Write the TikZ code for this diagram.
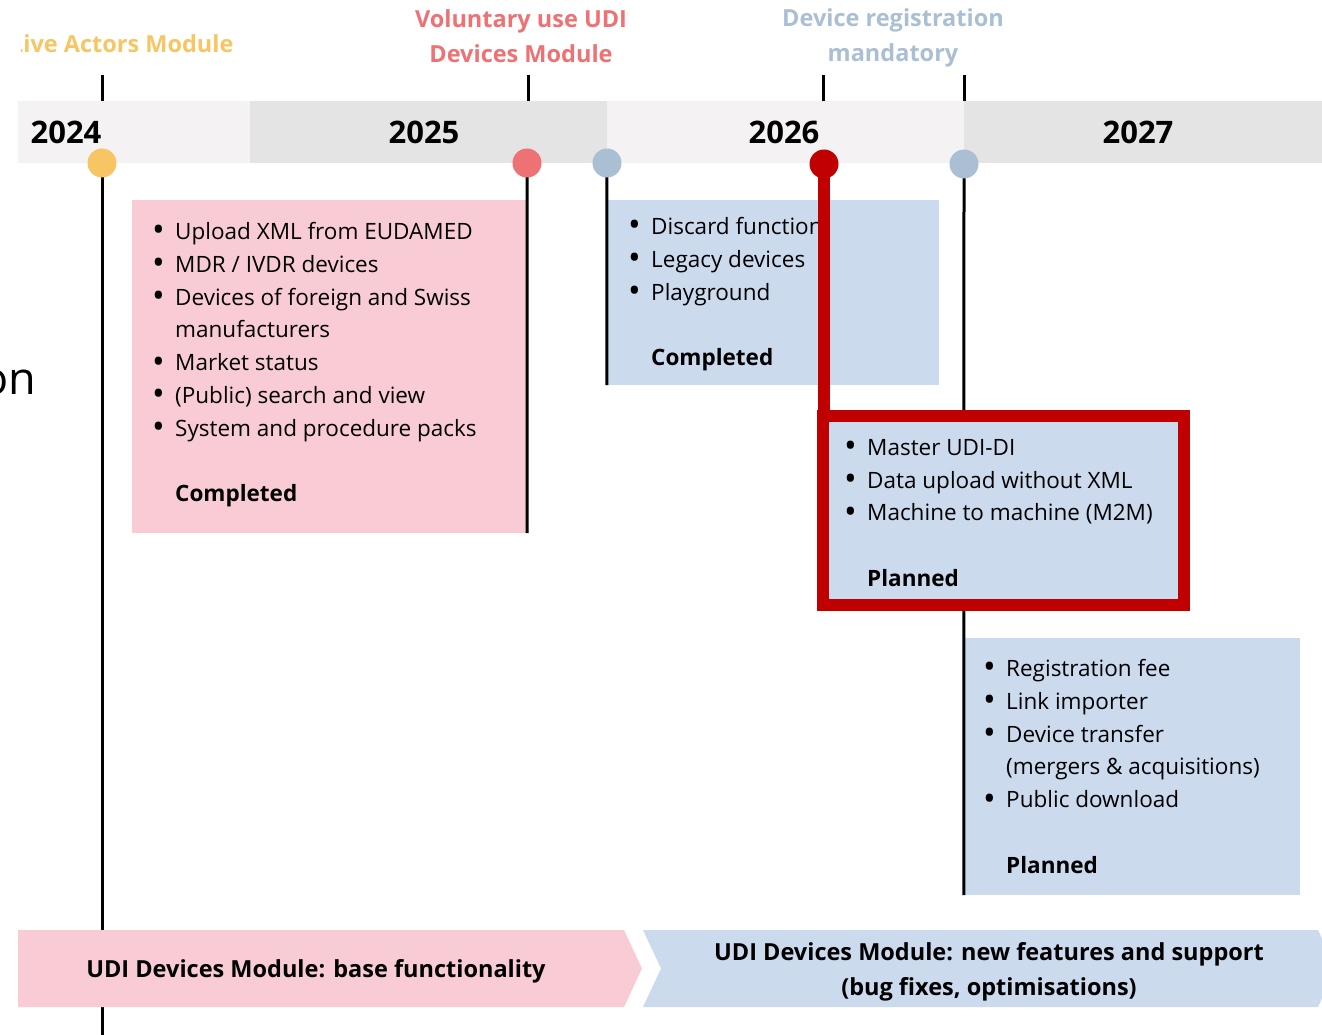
\documentclass[tikz,border=0pt]{standalone}
\usepackage{fontspec}
\setmainfont{Open Sans}
\usetikzlibrary{positioning}
\definecolor{bandA}{HTML}{F4F2F3}
\definecolor{bandB}{HTML}{E4E4E4}
\definecolor{pinkbox}{HTML}{F9CBD5}
\definecolor{bluebox}{HTML}{CCDAEE}
\definecolor{darkred}{HTML}{C00000}
\definecolor{mkorange}{HTML}{F7C564}
\definecolor{mksalmon}{HTML}{EE7174}
\definecolor{mkgrey}{HTML}{AABFD4}
\newcommand\bul{\makebox[21pt][l]{\hspace*{-2pt}\raisebox{-2.5pt}{\scalebox{1.5}{\textbullet}}}}
\newcommand\ind{\hspace*{21pt}}
\tikzset{
  yr/.style  ={font=\fontsize{31}{32}\selectfont\bfseries},
  mk/.style  ={align=center, font=\fontsize{23.5}{35}\selectfont\bfseries},
  dot/.style ={circle, minimum size=29pt, inner sep=0pt},
  tl/.style  ={line width=3pt},
  box/.style ={rectangle, inner sep=0pt, fill=bluebox},
  txt/.style ={anchor=north west, inner sep=0pt, align=left, font=\fontsize{22.5}{32.8}\selectfont},
  bar/.style ={align=center, font=\fontsize{23.5}{35}\selectfont\bfseries}
}

\begin{document}
\begin{tikzpicture}[x=1pt,y=-1pt]
\useasboundingbox (0,0) rectangle (1322,1035);
% year band
\fill[bandA] (18,101) rectangle (250,163);
\fill[bandB] (250,101) rectangle (607,163);
\fill[bandA] (607,101) rectangle (964,163);
\fill[bandB] (964,101) rectangle (1322,163);
\node[yr] (y24) at (66,132) {2024};
\node[yr] (y25) at (424,132) {2025};
\node[yr] (y26) at (784,132) {2026};
\node[yr] (y27) at (1138,132) {2027};
% milestone labels
\begin{scope}
  \clip (21,0) rectangle (300,80);
  \node[mk, text=mkorange, anchor=east] (lact) at (237,44) {Live Actors Module};
\end{scope}
\node[mk, text=mksalmon] (lvol) at (521,36) {Voluntary use UDI\\Devices Module};
\node[mk, text=mkgrey] (lreg) at (893,38) {Device registration\\mandatory};
\node[anchor=east, font=\fontsize{45}{50}\selectfont] (cut) at (40,382) {on};
% milestones
\coordinate (t24) at (102,163);
\coordinate (tvol) at (527,163);
\coordinate (treg) at (607,163);
\coordinate (tplan) at (824,164);
\coordinate (tmand) at (964,164);
\coordinate (e24) at (102,1035);
\foreach \x in {102,528,823,964}
  \draw[tl] (\x,75) -- (\x,101);

% feature boxes
\node[box, fill=pinkbox, minimum width=395, minimum height=333] (pbox) at (329.5,366.5) {};
\node[box, minimum width=332, minimum height=185] (b1) at (773,292.5) {};
\node[box, minimum width=336, minimum height=257] (b3) at (1132,766.5) {};
\node[txt] (ptxt) at (154,222) {\bul Upload XML from EUDAMED\\
  \bul MDR / IVDR devices\\
  \bul Devices of foreign and Swiss\\
  \ind manufacturers\\
  \bul Market status\\
  \bul (Public) search and view\\
  \bul System and procedure packs\\
  \mbox{}\\
  \ind\textbf{Completed}};
\node[txt] (b1txt) at (630,217) {\bul Discard function\\
  \bul Legacy devices\\
  \bul Playground\\
  \mbox{}\\
  \ind\textbf{Completed}};
\node[txt] (b3txt) at (985,659) {\bul Registration fee\\
  \bul Link importer\\
  \bul Device transfer\\
  \ind (mergers \& acquisitions)\\
  \bul Public download\\
  \mbox{}\\
  \ind\textbf{Planned}};

% timeline lines
\draw[tl] (t24) -- (e24);
\draw[tl] (tvol) -- (pbox.south east);
\draw[tl] (treg) -- (b1.south west);
\draw[tl] (tmand) -- (b3.south west);

% bottom bars
\fill[pinkbox] (18,930) -- (624,930) -- (642,968.5) -- (624,1007) -- (18,1007) -- cycle;
\fill[bluebox] (643,930) -- (1318,930) -- (1336,968.5) -- (1318,1007) -- (643,1007) -- (661,968.5) -- cycle;
\node[bar] (base) at (316,971.5) {UDI Devices Module: base functionality};
\node[bar] (new) at (989,971.5) {UDI Devices Module: new features and support\\(bug fixes, optimisations)};

% planned next step
\node[box, draw=darkred, line width=12pt, minimum width=360.5, minimum height=189.5] (rbox) at (1003.25,510.25) {};
\node[txt] (rtxt) at (846,439) {\bul Master UDI-DI\\
  \bul Data upload without XML\\
  \bul Machine to machine (M2M)\\
  \mbox{}\\
  \ind\textbf{Planned}};
\draw[darkred, line width=12pt] (tplan) -- (tplan |- rbox.north);

% dots
\node[dot, fill=mkorange] (d24) at (t24) {};
\node[dot, fill=mksalmon] (dvol) at (tvol) {};
\node[dot, fill=mkgrey] (dreg) at (treg) {};
\node[dot, fill=darkred] (dplan) at (tplan) {};
\node[dot, fill=mkgrey] (dmand) at (tmand) {};
\end{tikzpicture}
\end{document}
